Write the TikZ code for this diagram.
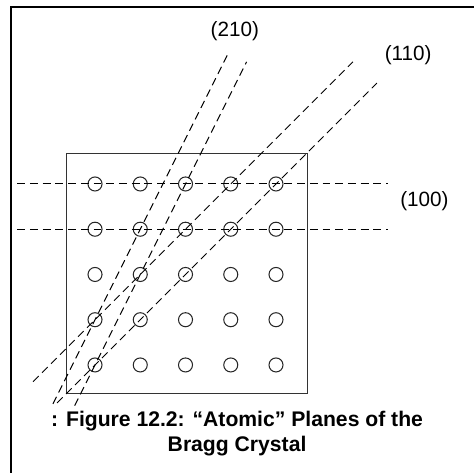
\documentclass[tikz,border=0pt]{standalone}
\usepackage{fontspec}
\setmainfont{Liberation Sans}
\usetikzlibrary{positioning}
\tikzset{
  plane/.style={black, line width=0.6pt, dash pattern=on 5pt off 3pt},
  atom/.style={black!85, line width=0.65pt},
  millerlbl/.style={font=\fontsize{13}{15}\selectfont, inner sep=0pt},
}

\begin{document}
\begin{tikzpicture}
\useasboundingbox (-2.10,-2.387) rectangle (8.376,8.066);

% Outer frame (left and top edges only)
\draw[line width=1.3pt] (-1.856,-2.387) -- (-1.856,7.905) -- (8.376,7.905);

% Crystal block
\draw[black!80, line width=0.7pt] (-0.63,-0.64) rectangle (4.70,4.67);

% Atoms
\foreach \i in {0,...,4} {
    \foreach \j in {0,...,4} {
        \draw[atom] (\i,\j) circle (0.155);
    }
}

% (100) planes
\draw[plane] (-1.72,4) -- (6.48,4);
\draw[plane] (-1.72,3) -- (6.48,3);

% (110) planes
\draw[plane] (-1.37,-0.37) -- (5.70,6.70);
\draw[plane] (-0.84,-0.84) -- (6.23,6.23);

% (210) planes
\draw[plane] (-0.93,-0.86) -- (2.95,6.90);
\draw[plane] (-0.45,-0.90) -- (3.35,6.70);

% Labels
\node[millerlbl] (lbl100) at (7.28,3.62) {(100)};
\node[millerlbl] (lbl110) at (6.92,6.84) {(110)};
\node[millerlbl] (lbl210) at (3.09,7.37) {(210)};

% Caption (base = last line)
\node[font=\bfseries\fontsize{13.3}{16}\selectfont, align=center, anchor=base]
    (caption) at (3.14,-1.92) {: Figure 12.2: “Atomic” Planes of the\\Bragg Crystal};

\end{tikzpicture}
\end{document}
